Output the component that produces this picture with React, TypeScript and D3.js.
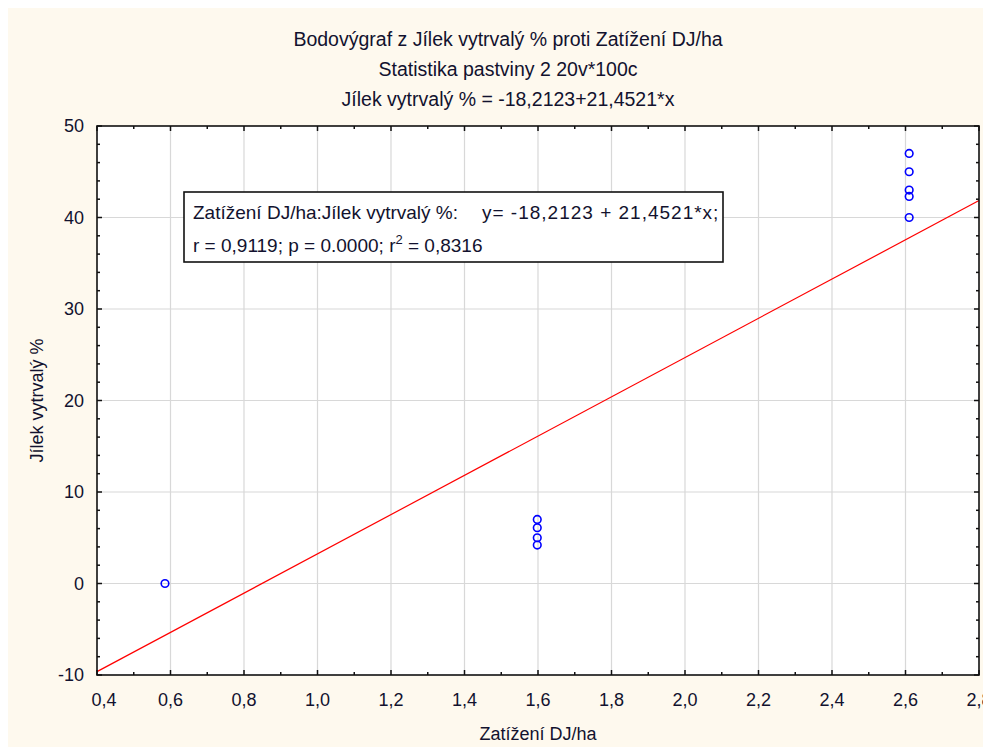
import React, { useEffect } from 'react';
import * as d3 from 'd3';

// data
const xValues = [0.585, 1.598, 1.598, 1.598, 1.598, 2.61, 2.61, 2.61, 2.61, 2.61];
const yValues = [0.0, 7.0, 6.1, 5.0, 4.2, 47.0, 45.0, 43.0, 42.3, 40.0];

const intercept = -18.2123;
const slope = 21.4521;

const xTicks = [0.4, 0.6, 0.8, 1.0, 1.2, 1.4, 1.6, 1.8, 2.0, 2.2, 2.4, 2.6, 2.8];
const yTicks = [-10, 0, 10, 20, 30, 40, 50];
const xMinor = d3.range(0.4, 2.8001, 0.1);
const yMinor = d3.range(-10, 50.001, 2);

const titleLines = [
  'Bodovýgraf z Jílek vytrvalý % proti Zatížení DJ/ha',
  'Statistika pastviny 2 20v*100c',
  'Jílek vytrvalý % = -18,2123+21,4521*x',
];

const W = 983;
const H = 739;
const left = 89, right = 971, top = 118, bottom = 667;
const FONT = '"Liberation Sans", Arial, sans-serif';
const TXT = '#12122e';

const fmt = (v: number) => d3.format('.1f')(v).replace('.', ',');

export default function App() {
  useEffect(() => {
    document.body.style.overflow = 'hidden';
    document.documentElement.style.overflow = 'hidden';
  }, []);

  const x = d3.scaleLinear().domain([0.4, 2.8]).range([left, right]);
  const y = d3.scaleLinear().domain([-10, 50]).range([bottom, top]);

  const line = d3.line<number>()
    .x(d => x(d))
    .y(d => y(intercept + slope * d));

  return (
    <svg width={W} height={H} style={{ display: 'block', background: '#fef9ee' }} fontFamily={FONT}>
      {/* titles */}
      {titleLines.map((t, i) => (
        <text key={i} x={500} y={38 + i * 30} textAnchor="middle" fontSize={19.5} fill={TXT}>{t}</text>
      ))}

      {/* plot area */}
      <rect x={left} y={top} width={right - left} height={bottom - top} fill="#ffffff" />

      {/* gridlines */}
      {xTicks.slice(1, -1).map(t => (
        <line key={'gx' + t} x1={x(t)} x2={x(t)} y1={top} y2={bottom} stroke="#d8d8d8" strokeWidth={1.2} />
      ))}
      {yTicks.slice(1, -1).map(t => (
        <line key={'gy' + t} x1={left} x2={right} y1={y(t)} y2={y(t)} stroke="#d8d8d8" strokeWidth={1.2} />
      ))}

      {/* regression line */}
      <path d={line([0.4, 2.8]) || ''} fill="none" stroke="#ff0000" strokeWidth={1.2} />

      {/* points */}
      {xValues.map((xv, i) => (
        <circle key={'p' + i} cx={x(xv)} cy={y(yValues[i])} r={3.8} fill="none" stroke="#0000ff" strokeWidth={1.6} />
      ))}

      {/* frame */}
      <rect x={left} y={top} width={right - left} height={bottom - top} fill="none" stroke="#111" strokeWidth={1.6} />

      {/* ticks, all four sides, inward */}
      {xMinor.map((t, i) => {
        const len = i % 2 === 0 ? 5 : 3;
        return (
          <g key={'tx' + i} stroke="#111" strokeWidth={1.5}>
            <line x1={x(t)} x2={x(t)} y1={bottom} y2={bottom - len} />
            <line x1={x(t)} x2={x(t)} y1={top} y2={top + len} />
          </g>
        );
      })}
      {yMinor.map((t, i) => {
        const len = i % 5 === 0 ? 5 : 3;
        return (
          <g key={'ty' + i} stroke="#111" strokeWidth={1.5}>
            <line x1={left} x2={left + len} y1={y(t)} y2={y(t)} />
            <line x1={right} x2={right - len} y1={y(t)} y2={y(t)} />
          </g>
        );
      })}

      {/* tick labels */}
      {xTicks.map((t, i) => (
        <text key={'lx' + t} x={x(t) + (i === 0 ? 7 : 0)} y={698} textAnchor="middle" fontSize={18} fill={TXT}>{fmt(t)}</text>
      ))}
      {yTicks.map(t => (
        <text key={'ly' + t} x={76} y={y(t)} dy="0.36em" textAnchor="end" fontSize={18} fill={TXT}>{t}</text>
      ))}

      {/* axis titles */}
      <text x={(left + right) / 2} y={732} textAnchor="middle" fontSize={18} fill={TXT}>Zatížení DJ/ha</text>
      <text transform={`translate(29,${(top + bottom) / 2}) rotate(-90)`} textAnchor="middle" dy="0.36em" fontSize={18} fill={TXT}>Jílek vytrvalý %</text>

      {/* stats box */}
      <rect x={176} y={184} width={539} height={70} fill="#ffffff" stroke="#111" strokeWidth={1.6} />
      <text x={185} y={211} fontSize={19} fill={TXT}>
        Zatížení DJ/ha:Jílek vytrvalý %:
        <tspan x={474} letterSpacing={1}>y= -18,2123 + 21,4521*x;</tspan>
      </text>
      <text x={185} y={244} fontSize={19} fill={TXT}>
        r = 0,9119; p = 0.0000; r<tspan dy={-8} fontSize={13}>2</tspan><tspan dy={8}> = 0,8316</tspan>
      </text>
    </svg>
  );
}
